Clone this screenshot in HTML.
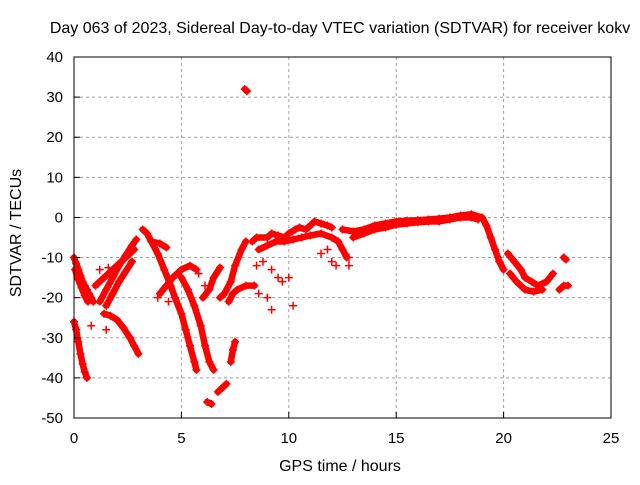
<!DOCTYPE html>
<html><head><meta charset="utf-8"><style>
body{margin:0;background:#fff;}
svg text{font-family:"Liberation Sans",sans-serif;font-size:16px;fill:#000;}
svg text.tk{font-size:15px;}
</style></head><body>
<svg id="chart" width="640" height="480" xmlns="http://www.w3.org/2000/svg">
<rect width="640" height="480" fill="#fff"/>
<text x="340" y="33" text-anchor="middle">Day 063 of 2023, Sidereal Day-to-day VTEC variation (SDTVAR) for receiver kokv</text>
<text x="340" y="471" text-anchor="middle">GPS time / hours</text>
<text transform="translate(21,233) rotate(-90)" text-anchor="middle">SDTVAR / TECUs</text>
<g id="grid"></g>
<g id="marks"></g>
<rect x="74" y="57" width="537" height="361" fill="none" stroke="#000" stroke-width="1"/>
<g id="ticks"></g>
</svg>
<script>
const xTicks=[0,5,10,15,20,25];
const yTicks=[40,30,20,10,0,-10,-20,-30,-40,-50];
const arc1=[[0,-10],[0.1,-11.5],[0.2,-13],[0.3,-14.5],[0.4,-16],[0.5,-17],[0.6,-18],[0.7,-19],[0.8,-20],[0.9,-21]];
const arc1b=[[0.05,-13],[0.2,-15.5],[0.35,-17.5],[0.5,-19.5],[0.65,-21]];
const arc2=[[0,-26],[0.1,-28],[0.2,-31],[0.3,-34],[0.4,-36.5],[0.5,-38.5],[0.6,-40]];
const arc3=[[1.4,-24],[1.7,-24.5],[2,-25.5],[2.3,-27.5],[2.6,-30],[2.8,-32],[3,-34]];
const arc4=[[1.2,-21],[1.5,-18],[1.8,-15],[2.1,-12],[2.4,-9.5],[2.7,-7],[2.9,-5.5]];
const arc4b=[[1,-17],[1.4,-15],[1.8,-13],[2.2,-11],[2.5,-9.5],[2.8,-8]];
const arc4c=[[1.5,-22],[1.8,-19],[2.1,-16],[2.4,-13.5],[2.7,-11]];
const arc5=[[3.2,-3],[3.4,-4],[3.6,-6],[4,-6.5],[4.3,-7.5]];
const arc6=[[3.6,-6],[3.9,-9],[4.2,-13],[4.5,-17],[4.7,-20],[5,-24],[5.2,-28],[5.4,-32],[5.6,-36],[5.7,-38]];
const arc6b=[[4.0,-19],[4.3,-17],[4.6,-15],[5,-13],[5.4,-12],[5.7,-13]];
const arc7=[[5,-15],[5.3,-18],[5.6,-22],[5.9,-27],[6.1,-32],[6.3,-36],[6.5,-38]];
const arc8=[[6.2,-46],[6.4,-46.5]];
const arc8b=[[6.7,-43.5],[7,-42],[7.1,-41.5]];
const arc9=[[7.3,-36],[7.4,-33],[7.5,-31]];
const arc10=[[6.0,-20],[6.3,-18],[6.5,-15],[6.8,-12.5]];
const arc10b=[[6.8,-20],[7,-19],[7.3,-16],[7.5,-12],[7.8,-8],[8,-6]];
const arc10c=[[7.2,-21],[7.4,-19],[7.6,-18],[8,-17],[8.4,-17]];
const arc11=[[7.95,32],[8.05,31.5]];
const arc12=[[8.3,-6],[8.5,-5],[9,-5],[9.2,-4],[9.5,-4.5],[9.8,-5],[10,-4],[10.3,-3],[10.5,-2.5],[10.8,-3],[11,-2],[11.2,-1],[11.5,-1.5],[11.8,-2],[12,-2.5]];
const arc12b=[[8.6,-8],[9,-7],[9.4,-6],[9.8,-6],[10.2,-5.5],[10.6,-5],[11,-4.5],[11.5,-4],[12,-5],[12.3,-6],[12.5,-8],[12.7,-10]];
const scatter=[[8.5,-12],[8.8,-11],[9.2,-13],[9.5,-15],[9.7,-16],[10,-15],[9.2,-23],[10.2,-22],[8.6,-19],[9,-20],[11.5,-9],[11.8,-8],[12,-11],[12.2,-12],[12.8,-10],[12.8,-12],[0.8,-27],[1.5,-28],[1.2,-13],[1.6,-12.5],[3.9,-20],[4.4,-21],[5.8,-14],[6.1,-17]];
const arc13=[[12.5,-3],[13,-3.5],[13.5,-3],[14,-2],[14.5,-1.5],[15,-1],[15.5,-0.8],[16,-0.7],[16.5,-0.5],[17,-0.3],[17.5,0],[18,0.5],[18.5,0.8],[19,0],[19.2,-2],[19.4,-5],[19.6,-8],[19.8,-11],[20,-13]];
const arc13b=[[13,-5],[13.5,-4],[14,-3],[14.5,-2.5],[15,-1.8],[15.5,-1.5],[16,-1.2],[16.5,-1],[17,-1],[17.5,-0.5],[18,0],[18.5,0],[18.8,-0.5]];
const arc14=[[20.2,-9],[20.5,-11],[20.8,-13],[21,-15],[21.3,-16],[21.6,-17],[22,-16],[22.3,-14]];
const arc14b=[[20.3,-14],[20.6,-16],[21,-18],[21.4,-18.5],[21.8,-18]];
const arc15=[[22.8,-10],[22.9,-10.5]];
const arc16=[[22.6,-18],[22.8,-17],[23,-17]];
const series=[arc1,arc1b,arc2,arc3,arc4,arc4b,arc4c,arc5,arc6,arc6b,arc7,arc8,arc8b,arc9,arc10,arc10b,arc10c,arc11,arc12,arc12b,arc13,arc13b,arc14,arc14b,arc15,arc16];
const X=v=>74+v*(537/25);
const Y=v=>57+(40-v)*(361/90);
const NS="http://www.w3.org/2000/svg";
const grid=document.getElementById('grid'),ticks=document.getElementById('ticks'),marks=document.getElementById('marks');
function mk(t,a,p){const e=document.createElementNS(NS,t);for(const k in a)e.setAttribute(k,a[k]);p.appendChild(e);return e;}
xTicks.forEach(t=>{
 if(t>0&&t<25){const g=mk('line',{x1:X(t),x2:X(t),y1:57,y2:418,stroke:'#a0a0a0','stroke-dasharray':'3,3'},grid);
 
 }
 const l=mk('text',{x:X(t),y:443,'text-anchor':'middle','class':'tk'},ticks);l.textContent=t;
 
 
 mk('line',{x1:X(t),x2:X(t),y1:418,y2:412,stroke:'#000'},ticks);
});
yTicks.forEach(t=>{
 if(t<40&&t>-50){const g=mk('line',{x1:74,x2:611,y1:Y(t),y2:Y(t),stroke:'#a0a0a0','stroke-dasharray':'3,3'},grid);
 
 }
 const l=mk('text',{x:63,y:Y(t)+5,'text-anchor':'end','class':'tk'},ticks);l.textContent=t;
 
 
 mk('line',{x1:74,x2:80,y1:Y(t),y2:Y(t),stroke:'#000'},ticks);
});
series.forEach(s=>{
 if(s.length>1){const pl=mk('polyline',{points:s.map(p=>X(p[0])+','+Y(p[1])).join(' '),fill:'none',stroke:'#f00','stroke-width':6.5,'stroke-linejoin':'round','stroke-linecap':'round'},marks);
 
 }
 s.forEach(p=>{const x=X(p[0]),y=Y(p[1]);
  const m=mk('path',{d:`M${x-4},${y}H${x+4}M${x},${y-4}V${y+4}`,stroke:'#f00','stroke-width':1.5},marks);
  
  });
});
scatter.forEach(p=>{const x=X(p[0]),y=Y(p[1]);
 const m=mk('path',{d:`M${x-4},${y}H${x+4}M${x},${y-4}V${y+4}`,stroke:'#f00','stroke-width':1.5},marks);
 
 });
</script>
</body></html>
